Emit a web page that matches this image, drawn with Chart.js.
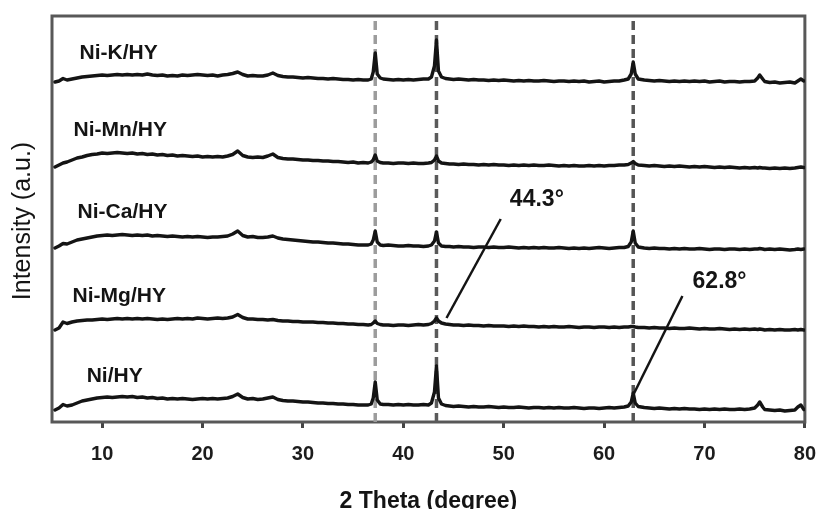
<!DOCTYPE html>
<html>
<head>
<meta charset="utf-8">
<title>XRD patterns</title>
<script src="https://cdn.jsdelivr.net/npm/chart.js@4.4.1/dist/chart.umd.min.js"></script>
<style>
  html, body { margin: 0; padding: 0; background: #fff; }
  canvas { display: block; }
</style>
</head>
<body>
<canvas id="xrd" width="830" height="509"></canvas>
<script>
// 2θ positions where the patterns were sampled
const angles = [
  5.3, 5.7, 6.1, 6.5,
  7.0, 7.5, 8.0, 8.5, 9.0, 9.5, 10.0, 10.5, 11.0, 11.5, 12.0, 12.5, 13.0, 13.5, 14.0, 14.5,
  15.0, 15.5, 16.0, 16.5, 17.0, 17.5, 18.0, 18.5, 19.0, 19.5, 20.0, 20.5, 21.0, 21.5, 22.0, 22.5,
  23.0, 23.5, 24.0, 24.5, 25.0, 25.5, 26.0, 26.5, 27.0, 27.5, 28.0, 28.5, 29.0, 29.5, 30.0, 30.5,
  31.0, 31.5, 32.0, 32.5, 33.0, 33.5, 34.0, 34.5, 35.0, 35.5, 36.0, 36.5,
  36.8, 37.0, 37.2, 37.4, 37.7,
  38.0, 38.5, 39.0, 39.5, 40.0, 40.5, 41.0, 41.5, 42.0, 42.5,
  42.8, 43.1, 43.3, 43.5, 43.8,
  44.2, 44.6,
  45.0, 45.5, 46.0, 46.5, 47.0, 47.5, 48.0, 48.5, 49.0, 49.5, 50.0, 50.5, 51.0, 51.5, 52.0, 52.5,
  53.0, 53.5, 54.0, 54.5, 55.0, 55.5, 56.0, 56.5, 57.0, 57.5, 58.0, 58.5, 59.0, 59.5, 60.0, 60.5,
  61.0, 61.5, 62.0,
  62.4, 62.7, 62.9, 63.1, 63.4,
  64.0, 64.5, 65.0, 65.5, 66.0, 66.5, 67.0, 67.5, 68.0, 68.5, 69.0, 69.5, 70.0, 70.5, 71.0, 71.5,
  72.0, 72.5, 73.0, 73.5, 74.0, 74.5, 75.0,
  75.3, 75.5, 75.8,
  76.0, 76.5, 77.0, 77.5, 78.0, 78.5, 79.0,
  79.3, 79.6, 79.9
];

// sample names, top to bottom
const samples = ['Ni-K/HY', 'Ni-Mn/HY', 'Ni-Ca/HY', 'Ni-Mg/HY', 'Ni/HY'];

// vertical stacking offset of each pattern (a.u.)
const offsets = [342, 257, 174, 95, 14];

// intensities relative to each pattern's own baseline (a.u.)
const niK = [
  -2, -1, 1.5, 0,
  1, 2, 3, 3.5, 4, 4.5, 5, 4.5, 5, 5.5, 5, 5.5, 5, 5.5, 5, 6,
  5, 4.5, 5, 4, 4.5, 4, 5, 4.5, 5, 5.5, 5, 4.5, 5, 4, 5, 5.5,
  6.5, 8, 5.5, 4, 4.5, 4, 4, 5, 7, 4.5, 3.5, 3, 3, 2.5, 2, 2.5,
  2, 1.5, 1.5, 1, 1.5, 1, 0.5, 0.5, 0, 0.5, 0, 0,
  1, 8, 27, 6, 2,
  1, 0.5, 0, 0.5, 0, 0.5, 0, 0.5, 1, 1,
  3, 14, 40, 9, 3,
  1.5, 1,
  0.5, 1, 0.5, 0, 0.5, 0, 0, -0.5, 0, -0.5, 0, -0.5, -1, -0.5, -1, -0.5,
  -1, -1, -0.5, -1, -1.5, -1, -1, -1.5, -1, -1.5, -1, -2, -1.5, -1, -2, -1.5,
  -1, -1, 0,
  1, 6, 18, 6, 1,
  0, -0.5, -1, -0.5, -1, -1.5, -1, -1.5, -1, -1.5, -1, -1.5, -1, -2, -1.5, -1,
  -2, -1.5, -1.5, -2, -1.5, -1.5, -1,
  2, 5, 1,
  -1.5, -2.5, -2, -3, -2.5, -2, -3,
  -1, 1, -1
];
const niMn = [
  -2, 0, 2, 3,
  5, 7, 8, 9.5, 10.5, 11, 12, 11.5, 12, 12.5, 12, 11.5, 12, 11, 11.5, 10.5,
  11, 10, 10.5, 9.5, 10, 9, 9.5, 9, 8.5, 9, 8, 8.5, 8, 8.5, 8, 9,
  10.5, 14, 9.5, 8, 7.5, 8, 7.5, 9, 11, 7.5, 6.5, 6, 6, 5.5, 5, 5,
  4.5, 4.5, 4, 4, 3.5, 3.5, 3, 2.5, 3, 2, 2.5, 2,
  3, 5, 10, 4, 2.5,
  2, 2, 1.5, 2, 2, 1.5, 2, 1.5, 1.5, 2,
  2.5, 5, 9, 4, 2,
  1.5, 1,
  1, 0.5, 1, 0.5, 0.5, 0, 0.5, 0, 0.5, 0, 0, -0.5, 0, -0.5, 0, -0.5,
  0, -0.5, -0.5, 0, -0.5, -1, -0.5, -1, -0.5, -1, -1, -0.5, -1, -0.5, -1, -0.5,
  -0.5, 0, 0,
  0.5, 2, 3.5, 1.5, 0,
  -0.5, -1, -0.5, -1, -1.5, -1, -1.5, -1, -1.5, -2, -1.5, -2, -1.5, -2, -2.5, -2,
  -2.5, -2, -2.5, -3, -2.5, -3, -2.5,
  -3, -2.5, -3,
  -3, -3.5, -3, -3.5, -3, -3.5, -3,
  -2.5, -2, -2.5
];
const niCa = [
  0, 2, 4.5, 4,
  6, 8, 9, 10, 11, 12, 12.5, 13, 12.5, 13, 13.5, 13, 12.5, 13, 12.5, 13,
  12, 12.5, 12, 11.5, 12, 11.5, 11, 11.5, 11, 11.5, 11, 10.5, 11, 11, 11.5, 12,
  14, 17, 12.5, 11, 11.5, 10.5, 10.5, 11, 12, 10, 9, 8.5, 8, 7.5, 7, 6.5,
  6, 6, 5.5, 5, 5, 4.5, 4, 4, 3.5, 3, 3, 3,
  4, 8, 17, 6, 3,
  2.5, 3, 2.5, 2, 2, 2.5, 2, 2, 1.5, 2,
  3, 7, 16, 5, 2,
  1.5, 1.5,
  1, 1.5, 1, 1, 0.5, 1, 1, 0.5, 1, 0.5, 0.5, 1, 0.5, 0, 0.5, 0,
  0.5, 0, 0.5, 0, 0, 0.5, 0, -0.5, 0, -0.5, 0, -0.5, 0, 0.5, 0, -0.5,
  0, 0.5, 0.5,
  1.5, 6, 17, 5, 1,
  0, -0.5, 0, -0.5, -0.5, -1, -0.5, -1, -0.5, -1, -1, -0.5, -1, -1.5, -1, -1,
  -1.5, -1, -1, -1.5, -1, -1.5, -1,
  -1, -0.5, -1,
  -1.5, -1, -1.5, -1, -1.5, -2, -1.5,
  -1, -1.5, -1
];
const niMg = [
  -3, -1, 5, 3.5,
  5, 6, 6.5, 7, 7, 7.5, 8, 7.5, 8, 8.5, 8, 8.5, 8, 8.5, 8, 8.5,
  8, 7.5, 8, 7.5, 8, 8.5, 8, 8.5, 8, 9, 8.5, 8, 8.5, 9, 8.5, 9,
  10, 12.5, 9.5, 8, 8, 7.5, 7.5, 7, 7.5, 6.5, 6, 6, 5.5, 5.5, 5, 5,
  5, 4.5, 4.5, 4, 4, 3.5, 3.5, 3, 3, 2.5, 2.5, 2,
  2.5, 4, 6, 3.5, 2.5,
  2, 2, 1.5, 2, 2, 1.5, 2, 2.5, 2, 2.5,
  3.5, 6, 9, 6, 4,
  3, 2.5,
  2, 2, 1.5, 2, 1.5, 1.5, 1, 1.5, 1, 1, 1, 0.5, 1, 0.5, 1, 0.5,
  0.5, 0, 0.5, 0, 0.5, 0, 0, 0.5, 0, -0.5, 0, 0, -0.5, 0, 0, -0.5,
  0, -0.5, 0,
  0, 0.5, 0.5, 0, -0.5,
  -0.5, -1, -0.5, -1, -1, -1.5, -1, -1.5, -1.5, -1, -1.5, -2, -1.5, -2, -2, -1.5,
  -2, -2.5, -2, -2.5, -2, -2.5, -2,
  -2.5, -2, -2.5,
  -3, -2.5, -3, -2.5, -3, -3, -2.5,
  -3, -2.5, -3
];
const niHY = [
  -2, 0, 3.5, 2,
  3, 5, 7, 8, 9, 10, 10.5, 11, 10.5, 11, 11.5, 11, 11.5, 10.5, 11, 10,
  10.5, 9.5, 10, 9, 9.5, 9, 9.5, 9, 8.5, 9, 9.5, 9, 9.5, 9, 9.5, 10,
  11.5, 14, 10.5, 9, 9.5, 8.5, 9, 10, 11, 8.5, 7.5, 7, 7, 6.5, 6, 6,
  5.5, 5, 5, 4.5, 4.5, 4, 4, 3.5, 3.5, 3, 3, 3,
  4, 10, 26, 8, 4,
  3.5, 3.5, 3, 3.5, 3, 3.5, 3, 3, 3.5, 3,
  5, 16, 42, 10, 4,
  2.5, 2,
  1.5, 2, 1.5, 1, 1.5, 1, 1, 1.5, 1, 0.5, 1, 0.5, 0.5, 1, 0.5, 0,
  0.5, 0.5, 0, 0.5, 0, 0.5, 0, 0, 0.5, 0, -0.5, 0, 0, -0.5, 0, 0.5,
  0, 0.5, 1,
  2, 6, 15, 5, 1.5,
  0.5, 0, -0.5, 0, -0.5, -1, -0.5, -1, -0.5, -1, -1, -1.5, -1, -1.5, -1, -1.5,
  -1, -1.5, -1.5, -1, -1.5, -1, 0,
  3, 6, 1,
  -1.5, -2, -2.5, -2, -3, -2.5, -2,
  1, 3, -1.5
];
const patterns = [niK, niMn, niCa, niMg, niHY];

// reflections marked with dashed guides (2θ, degree)
const guideAngles = [37.2, 43.3, 62.9];

// Ni reflections called out with a leader line (2θ, degree)
const calloutAngles = [44.3, 62.8];
const calloutTexts = ['44.3°', '62.8°'];

// x-axis tick values
const xTicks = [10, 20, 30, 40, 50, 60, 70, 80];

const FONT = '"Liberation Sans", Arial, Helvetica, sans-serif';
const INK = '#141414';

// ---- layout of the annotations, in data units ----
const guideStyle = [
  { color: '#9c9c9c' },
  { color: '#5a5a5a' },
  { color: '#555555' }
];
const labelAnchors = [
  { x: 7.75, y: 369 },
  { x: 7.15, y: 292 },
  { x: 7.55, y: 210 },
  { x: 7.05, y: 126 },
  { x: 8.45, y: 46 }
];
const calloutLayout = [
  { tipY: 104, tailX: 49.7, tailY: 203, textX: 53.3, textY: 222 },
  { tipY: 25, tailX: 67.8, tailY: 126, textX: 71.5, textY: 140 }
];

const datasets = [];

guideAngles.forEach((a, i) => {
  datasets.push({
    label: 'guide ' + a,
    data: [{ x: a, y: 0 }, { x: a, y: 406 }],
    borderColor: guideStyle[i].color,
    borderWidth: 3.5,
    borderDash: [9, 5],
    pointRadius: 0,
    order: 10
  });
});

patterns.forEach((vals, i) => {
  datasets.push({
    label: samples[i],
    data: angles.map((a, k) => ({ x: a, y: offsets[i] + vals[k] })),
    borderColor: INK,
    borderWidth: 3.4,
    borderJoinStyle: 'round',
    borderCapStyle: 'round',
    pointRadius: 0,
    tension: 0,
    order: 1
  });
});

calloutAngles.forEach((a, i) => {
  const c = calloutLayout[i];
  datasets.push({
    label: calloutTexts[i],
    data: [{ x: a, y: c.tipY }, { x: c.tailX, y: c.tailY }],
    borderColor: INK,
    borderWidth: 2.5,
    pointRadius: 0,
    order: 0
  });
});

// frame, sample names, callout texts and axis titles
const decorations = {
  id: 'decorations',
  beforeDatasetsDraw(chart) {
    const { ctx, chartArea: a } = chart;
    ctx.save();
    ctx.strokeStyle = '#585858';
    ctx.lineWidth = 3;
    ctx.strokeRect(a.left, a.top, a.right - a.left, a.bottom - a.top);
    ctx.restore();
  },
  afterDatasetsDraw(chart) {
    const { ctx, chartArea: a, scales: { x, y } } = chart;
    ctx.save();
    ctx.fillStyle = INK;

    ctx.font = 'bold 21px ' + FONT;
    ctx.textAlign = 'left';
    ctx.textBaseline = 'middle';
    samples.forEach((s, i) => {
      ctx.fillText(s, x.getPixelForValue(labelAnchors[i].x), y.getPixelForValue(labelAnchors[i].y));
    });

    ctx.font = 'bold 23px ' + FONT;
    ctx.textAlign = 'center';
    calloutTexts.forEach((t, i) => {
      const c = calloutLayout[i];
      ctx.fillText(t, x.getPixelForValue(c.textX), y.getPixelForValue(c.textY));
    });

    // axis titles
    ctx.font = 'bold 23px ' + FONT;
    ctx.textAlign = 'center';
    ctx.textBaseline = 'alphabetic';
    ctx.fillText('2 Theta (degree)', (a.left + a.right) / 2, chart.height - 1);

    ctx.translate(a.left - 29, (a.top + a.bottom) / 2 + 2);
    ctx.rotate(-Math.PI / 2);
    ctx.font = '25px ' + FONT;
    ctx.textBaseline = 'middle';
    ctx.fillText('Intensity (a.u.)', 0, 0);
    ctx.restore();
  }
};

new Chart(document.getElementById('xrd'), {
  type: 'line',
  data: { datasets },
  options: {
    responsive: false,
    devicePixelRatio: 1,
    animation: false,
    layout: { padding: { left: 52, right: 16, top: 16, bottom: 0 } },
    plugins: { legend: { display: false }, tooltip: { enabled: false } },
    scales: {
      x: {
        type: 'linear',
        min: 5,
        max: 80,
        afterBuildTicks: s => { s.ticks = xTicks.map(v => ({ value: v })); },
        afterFit: s => { s.height = 87; },
        border: { display: false },
        grid: {
          display: true,
          drawOnChartArea: false,
          drawTicks: true,
          tickLength: 6,
          tickWidth: 3,
          tickColor: '#444'
        },
        ticks: {
          autoSkip: false,
          maxRotation: 0,
          padding: 14,
          color: '#1c1c1c',
          font: { family: FONT, size: 20, weight: 'bold' }
        }
      },
      y: { display: false, min: 0, max: 406 }
    }
  },
  plugins: [decorations]
});
</script>
</body>
</html>
